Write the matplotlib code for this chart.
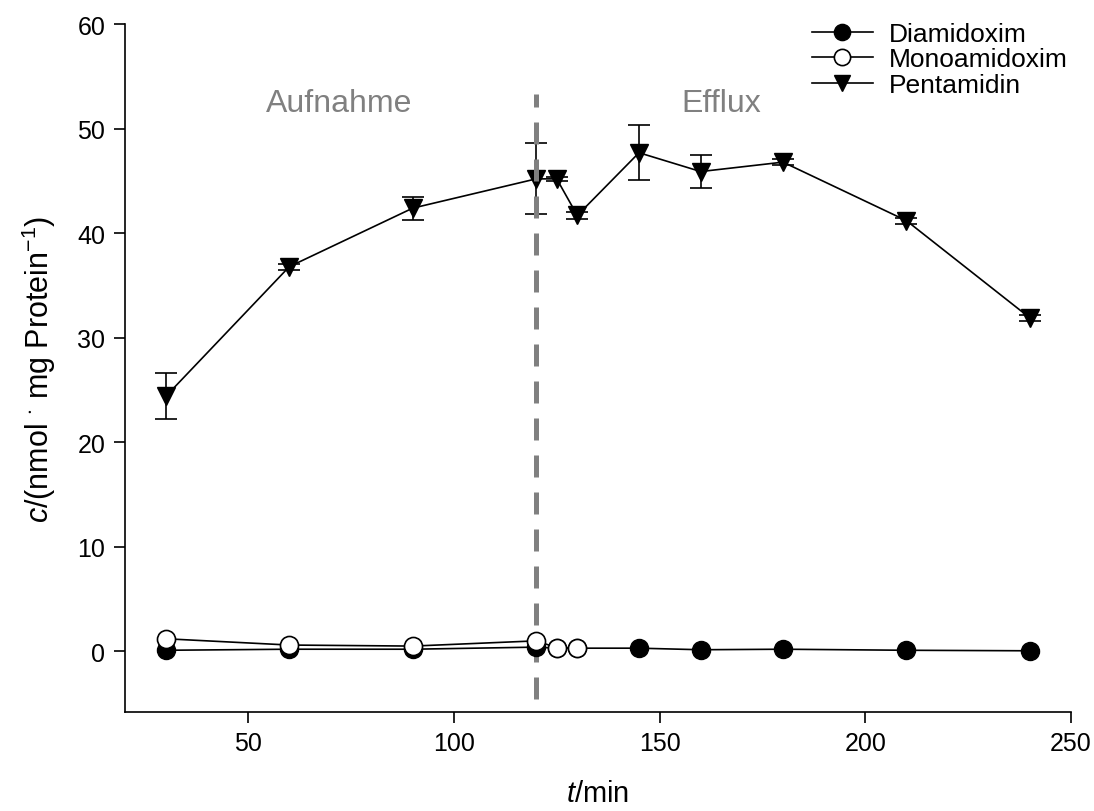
import matplotlib
matplotlib.use('Agg')
import matplotlib.pyplot as plt
import numpy as np

plt.rcParams['font.family'] = ['Liberation Sans', 'DejaVu Sans']
plt.rcParams['mathtext.fontset'] = 'custom'
plt.rcParams['mathtext.rm'] = 'Liberation Sans'
plt.rcParams['mathtext.it'] = 'Liberation Sans:italic'

# Data
t_dia = [30, 60, 90, 120, 125, 130, 145, 160, 180, 210, 240]
c_dia = [0.1, 0.2, 0.2, 0.4, 0.3, 0.3, 0.3, 0.15, 0.2, 0.1, 0.05]

t_mono = [30, 60, 90, 120, 125, 130]
c_mono = [1.2, 0.6, 0.5, 1.0, 0.35, 0.3]

t_pent = [30, 60, 90, 120, 125, 130, 145, 160, 180, 210, 240]
c_pent = [24.4, 36.8, 42.4, 45.2, 45.2, 41.7, 47.7, 45.9, 46.8, 41.2, 31.9]
e_pent = [2.2, 0.3, 1.1, 3.4, 0.2, 0.3, 2.65, 1.6, 0.3, 0.3, 0.3]

t_switch = 120

fig = plt.figure(figsize=(10.94, 8.12), dpi=100)
ax = fig.add_axes([0.114, 0.122, 0.865, 0.847])

pent = ax.errorbar(t_pent, c_pent, yerr=e_pent, color='black', marker='v', markersize=13,
                   linewidth=1.2, elinewidth=1.2, capsize=8, capthick=1.2, zorder=2)
ax.plot([t_switch, t_switch], [-4.6, 53.3], color='#808080', linewidth=3.6,
        dashes=(4.4, 3), zorder=3)
dia, = ax.plot(t_dia, c_dia, color='black', marker='o', markersize=13, markerfacecolor='black',
               linewidth=1.2, zorder=4)
mono, = ax.plot(t_mono, c_mono, color='black', marker='o', markersize=13, markerfacecolor='white',
                markeredgewidth=1.2, linewidth=1.2, zorder=5)

ax.text(72, 52.5, 'Aufnahme', color='#808080', fontsize=23, ha='center', va='center')
ax.text(165, 52.5, 'Efflux', color='#808080', fontsize=23, ha='center', va='center')

ax.set_xlim(20, 250)
ax.set_ylim(-5.8, 60)
ax.set_xticks([50, 100, 150, 200, 250])
ax.set_yticks([0, 10, 20, 30, 40, 50, 60])
ax.tick_params(direction='out', length=8, width=1.2, labelsize=18, pad=6)
ax.spines['top'].set_visible(False)
ax.spines['right'].set_visible(False)
ax.spines['left'].set_linewidth(1.2)
ax.spines['bottom'].set_linewidth(1.2)

ax.set_xlabel(r'$\mathit{t}$/min', fontsize=21, labelpad=17)
ax.set_ylabel(r'$\mathit{c}$/(nmol $^{\cdot}$ mg Protein$^{-1}$)', fontsize=22, labelpad=14)

ax.legend([dia, mono, pent[0]], ['Diamidoxim', 'Monoamidoxim', 'Pentamidin'],
          loc='upper right', bbox_to_anchor=(1.013, 1.026), frameon=False, fontsize=19,
          handlelength=2.3, labelspacing=0.05, handletextpad=0.6, markerscale=0.9,
          borderaxespad=0.2)

fig.savefig('out.png', dpi=100)
